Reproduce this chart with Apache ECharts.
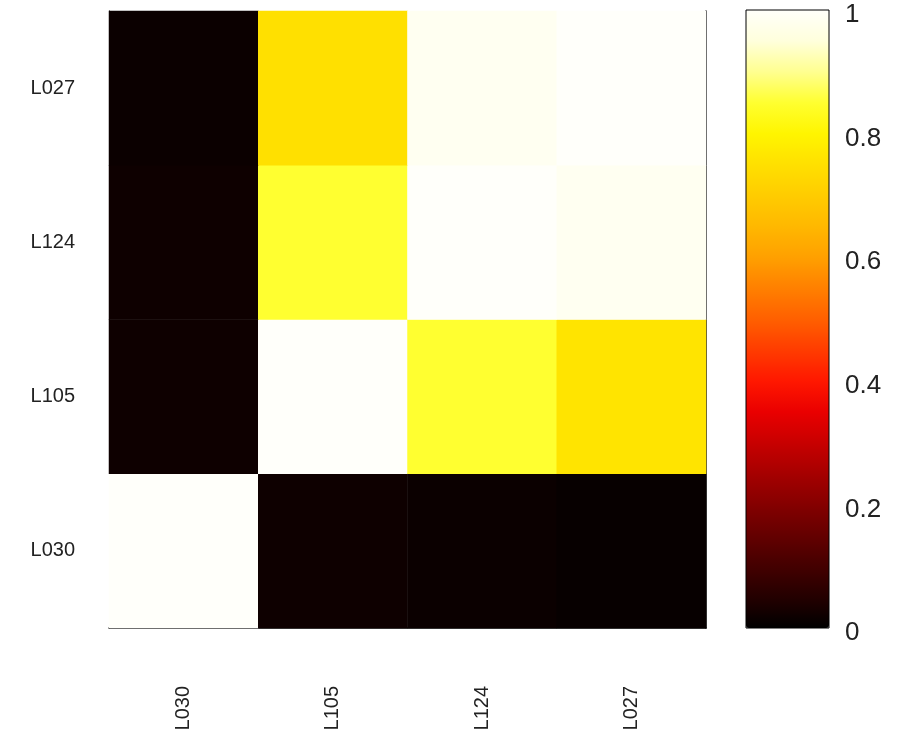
<!DOCTYPE html>
<html>
<head>
<meta charset="utf-8">
<script src="https://cdn.jsdelivr.net/npm/echarts@6/dist/echarts.min.js"></script>
<style>html,body{margin:0;padding:0;background:#fff}#c{width:918px;height:746px}</style>
</head>
<body>
<div id="c"></div>
<script>
// categories (x left->right, y bottom->top)
var xCats = ['L030', 'L105', 'L124', 'L027'];
var yCats = ['L030', 'L105', 'L124', 'L027'];
// values by row (yCats order), columns in xCats order
var rowL030 = [1.00, 0.02, 0.015, 0.01];
var rowL105 = [0.02, 1.00, 0.85, 0.76];
var rowL124 = [0.02, 0.85, 1.00, 0.985];
var rowL027 = [0.015, 0.75, 0.985, 1.00];
var rows = [rowL030, rowL105, rowL124, rowL027];
// colorbar ticks
var cbTicks = [0, 0.2, 0.4, 0.6, 0.8, 1];
// colormap (evenly spaced stops 0..1)
var cmap = ['#000000','#240000','#440000','#640000','#850000','#a60000','#c80000','#ea0000',
            '#ff1800','#ff3c00','#ff6000','#ff8000','#ffa000','#ffb800','#ffcc00','#ffe000',
            '#fff500','#ffff30','#ffff90','#ffffdc','#fffffa'];

var data = [];
rows.forEach(function (r, yi) { r.forEach(function (v, xi) { data.push([xi, yi, v]); }); });

var chart = echarts.init(document.getElementById('c'));
var lab = {fontFamily: 'Liberation Sans, Arial, sans-serif', color: '#222'};
chart.setOption({
  animation: false,
  grid: [
    {left: 109, right: 212, top: 11, bottom: 118},
    {left: 746, width: 83, top: 10, height: 618, show: true, borderColor: '#000', borderWidth: 1, backgroundColor: 'transparent', z: 10}
  ],
  xAxis: [
    {type: 'category', data: xCats, gridIndex: 0,
     axisLine: {show: true, lineStyle: {color: '#000', width: 1.5}}, axisTick: {show: false}, splitLine: {show: false},
     axisLabel: Object.assign({rotate: 90, fontSize: 20, margin: 58}, lab)},
    {type: 'value', gridIndex: 1, show: false, min: 0, max: 1}
  ],
  yAxis: [
    {type: 'category', data: yCats, gridIndex: 0,
     axisLine: {show: true, lineStyle: {color: '#000', width: 1}}, axisTick: {show: false},
     axisLabel: Object.assign({fontSize: 20, margin: 34}, lab)},
    {type: 'category', data: yCats, gridIndex: 0, position: 'right',
     axisLine: {show: true, lineStyle: {color: '#000', width: 1.5}}, axisTick: {show: false}, axisLabel: {show: false}},
    {type: 'value', gridIndex: 1, position: 'right', min: 0, max: 1, interval: 0.2,
     axisLine: {show: false}, splitLine: {show: false},
     axisTick: {show: false},
     axisLabel: Object.assign({fontSize: 26, margin: 16,
       rich: {t: {fontSize: 26, fontFamily: 'Liberation Sans, Arial, sans-serif', color: '#222', padding: [10, 0, 0, 0]}},
       formatter: function (v) {
         var r = Math.round(v * 10) / 10;
         return cbTicks.indexOf(r) >= 0 ? '{t|' + r + '}' : '';
       }}, lab)}
  ],
  visualMap: {
    type: 'continuous', min: 0, max: 1, seriesIndex: 0, calculable: false, hoverLink: false,
    left: 746, top: 10, padding: 0, itemWidth: 83, itemHeight: 618, text: null, showLabel: false,
    inRange: {color: cmap}
  },
  series: [{
    type: 'heatmap', xAxisIndex: 0, yAxisIndex: 0, data: data,
    itemStyle: {borderWidth: 0}, emphasis: {disabled: true}
  }]
});
</script>
</body>
</html>
